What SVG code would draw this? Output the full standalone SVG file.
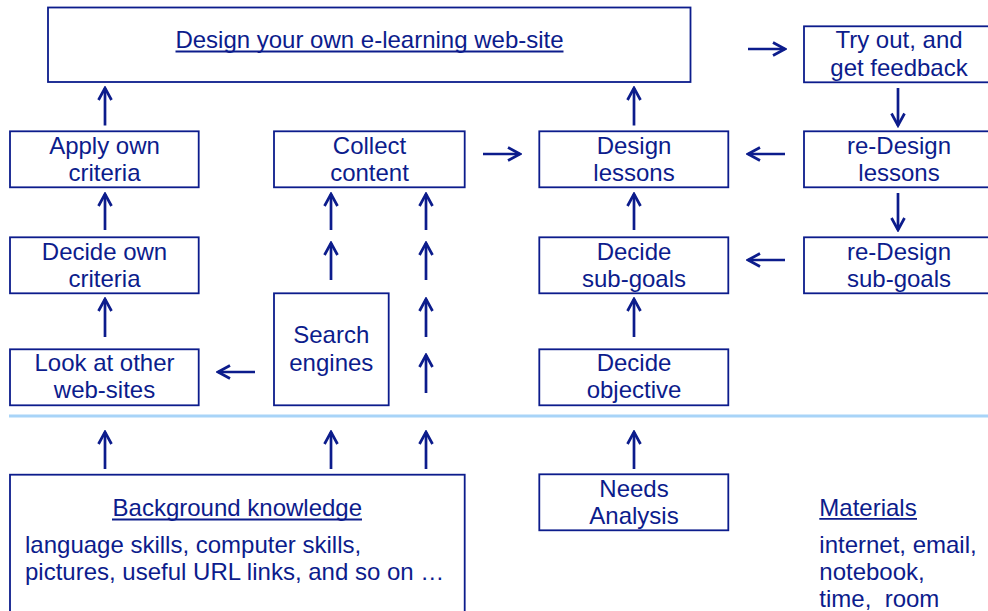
<svg xmlns="http://www.w3.org/2000/svg" width="988" height="611" viewBox="0 0 988 611">
<defs>
<style>
.box{fill:#ffffff;stroke:#0c1c8c;stroke-width:1.8}
.t{font-family:"Liberation Sans",Arial,sans-serif;font-size:24px;fill:#0c1c8c;text-anchor:middle}
.tl{font-family:"Liberation Sans",Arial,sans-serif;font-size:24px;fill:#0c1c8c;text-anchor:start}
.ul{stroke:#0c1c8c;stroke-width:1.8}
.a{stroke:#0c1c8c;stroke-width:2.7;fill:none;marker-end:url(#arr)}
</style>
<marker id="arr" viewBox="-15 -8 17 16" refX="0" refY="0" markerWidth="17" markerHeight="16" markerUnits="userSpaceOnUse" orient="auto">
<path d="M-12,-6.5 L0,0 L-12,6.5" fill="none" stroke="#0c1c8c" stroke-width="2.7"/>
</marker>
</defs>
<rect width="988" height="611" fill="#ffffff"/>

<line x1="9" y1="416" x2="988" y2="416" stroke="#a8d4f8" stroke-width="3"/>

<g id="n-website">
<rect class="box" x="48" y="7.5" width="642.5" height="74.5"/>
<text class="t" x="369.5" y="48">Design your own e-learning web-site</text>
<line class="ul" x1="175.5" y1="51.5" x2="563.5" y2="51.5"/>
</g>
<g id="n-tryout">
<rect class="box" x="804" y="26.3" width="190" height="56"/>
<text class="t" x="899" y="48">Try out, and</text>
<text class="t" x="899" y="75.5">get feedback</text>
</g>
<g id="n-apply">
<rect class="box" x="10" y="131.3" width="188.7" height="56"/>
<text class="t" x="104.5" y="154">Apply own</text>
<text class="t" x="104.5" y="181">criteria</text>
</g>
<g id="n-collect">
<rect class="box" x="274" y="131.3" width="190.7" height="56"/>
<text class="t" x="369.5" y="154">Collect</text>
<text class="t" x="369.5" y="181">content</text>
</g>
<g id="n-designlessons">
<rect class="box" x="539.3" y="131.3" width="189" height="56"/>
<text class="t" x="634" y="154">Design</text>
<text class="t" x="634" y="181">lessons</text>
</g>
<g id="n-redesignlessons">
<rect class="box" x="804" y="131.3" width="190" height="56"/>
<text class="t" x="899" y="154">re-Design</text>
<text class="t" x="899" y="181">lessons</text>
</g>
<g id="n-decidecriteria">
<rect class="box" x="10" y="237.3" width="188.7" height="56"/>
<text class="t" x="104.5" y="259.5">Decide own</text>
<text class="t" x="104.5" y="286.5">criteria</text>
</g>
<g id="n-subgoals">
<rect class="box" x="539.3" y="237.3" width="189" height="56"/>
<text class="t" x="634" y="259.5">Decide</text>
<text class="t" x="634" y="286.5">sub-goals</text>
</g>
<g id="n-resubgoals">
<rect class="box" x="804" y="237.3" width="190" height="56"/>
<text class="t" x="899" y="259.5">re-Design</text>
<text class="t" x="899" y="286.5">sub-goals</text>
</g>
<g id="n-search">
<rect class="box" x="274" y="293.3" width="114.7" height="112"/>
<text class="t" x="331.3" y="343">Search</text>
<text class="t" x="331.3" y="371">engines</text>
</g>
<g id="n-look">
<rect class="box" x="10" y="349.3" width="188.7" height="56"/>
<text class="t" x="104.5" y="371">Look at other</text>
<text class="t" x="104.5" y="398">web-sites</text>
</g>
<g id="n-objective">
<rect class="box" x="539.3" y="349.3" width="189" height="56"/>
<text class="t" x="634" y="371">Decide</text>
<text class="t" x="634" y="398">objective</text>
</g>
<g id="n-background">
<rect class="box" x="10" y="474.7" width="454.7" height="150"/>
<text class="t" x="237.3" y="516">Background knowledge</text>
<line class="ul" x1="112" y1="519.5" x2="362" y2="519.5"/>
<text class="tl" x="25" y="552.7">language skills, computer skills,</text>
<text class="tl" x="25" y="580">pictures, useful URL links, and so on …</text>
</g>
<g id="n-needs">
<rect class="box" x="539.3" y="474.3" width="189" height="56"/>
<text class="t" x="634" y="496.7">Needs</text>
<text class="t" x="634" y="524">Analysis</text>
</g>
<g id="n-materials">
<text class="tl" x="819.3" y="515.7">Materials</text>
<line class="ul" x1="819.3" y1="518.8" x2="917" y2="518.8"/>
<text class="tl" x="819.3" y="552.7">internet, email,</text>
<text class="tl" x="819.3" y="580">notebook,</text>
<text class="tl" x="819.3" y="606.7" xml:space="preserve" style="white-space:pre">time,  room</text>
</g>

<g id="connectors">
<line class="a" x1="105" y1="125.5" x2="105" y2="88"/>
<line class="a" x1="105" y1="230" x2="105" y2="194"/>
<line class="a" x1="105" y1="337" x2="105" y2="299"/>
<line class="a" x1="105" y1="469" x2="105" y2="432"/>
<line class="a" x1="331" y1="230" x2="331" y2="194"/>
<line class="a" x1="331" y1="280" x2="331" y2="243"/>
<line class="a" x1="331" y1="469" x2="331" y2="432"/>
<line class="a" x1="426" y1="230" x2="426" y2="194"/>
<line class="a" x1="426" y1="280" x2="426" y2="243"/>
<line class="a" x1="426" y1="337" x2="426" y2="299"/>
<line class="a" x1="426" y1="393" x2="426" y2="355"/>
<line class="a" x1="426" y1="469" x2="426" y2="432"/>
<line class="a" x1="634" y1="125.5" x2="634" y2="88"/>
<line class="a" x1="634" y1="230" x2="634" y2="194"/>
<line class="a" x1="634" y1="337" x2="634" y2="299"/>
<line class="a" x1="634" y1="469" x2="634" y2="432"/>
<line class="a" x1="898" y1="88" x2="898" y2="125.5"/>
<line class="a" x1="898" y1="193" x2="898" y2="230"/>
<line class="a" x1="748" y1="49" x2="785" y2="49"/>
<line class="a" x1="483" y1="154" x2="520" y2="154"/>
<line class="a" x1="785" y1="154" x2="748" y2="154"/>
<line class="a" x1="785" y1="260" x2="748" y2="260"/>
<line class="a" x1="255" y1="372" x2="218" y2="372"/>
</g>
</svg>
